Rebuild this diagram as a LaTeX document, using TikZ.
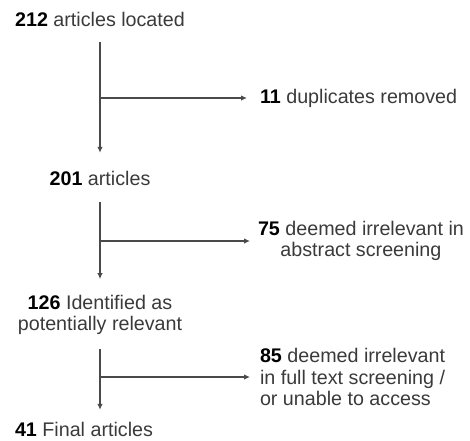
\documentclass[tikz,border=0pt]{standalone}
\usepackage{fontspec}
\setmainfont{Liberation Sans}
\usetikzlibrary{arrows.meta}
\definecolor{lineGray}{HTML}{4A4A4A}
\definecolor{textGray}{HTML}{3A3A3A}
\newcommand{\cnt}[1]{{\color{black}\bfseries #1}}
\tikzstyle{stageText}=[inner sep=0pt, outer sep=0pt, align=center, text=textGray, font=\fontsize{9.85}{10.75}\selectfont]
\tikzstyle{sideText}=[stageText, anchor=west]
\tikzstyle{flowArrow}=[lineGray, line width=0.6pt, -{Latex[length=3pt,width=2.8pt]}]

\begin{document}
\begin{tikzpicture}[x=0.5pt, y=-0.5pt]
    \useasboundingbox (0,0) rectangle (470,440);
    % nodes
    \node[stageText] (located) at (100, 19) {\cnt{212} articles located};
    \node[stageText] (articles) at (100, 178) {\cnt{201} articles};
    \node[stageText] (identified) at (100, 315) {\cnt{126} Identified as\\potentially relevant};
    \node[stageText] (final) at (84, 429) {\cnt{41} Final articles};

    \node[sideText] (duplicates) at (260, 98) {\cnt{11} duplicates removed};
    \node[sideText] (abstract) at (258, 241) {\cnt{75} deemed irrelevant in\\abstract screening};
    \node[sideText, align=left] (fulltext) at (260, 377) {\cnt{85} deemed irrelevant\\in full text screening /\\or unable to access};

    % Arcs
    \draw[flowArrow, shorten <=8pt, shorten >=9pt] (located.south) -- (articles.north);
    \draw[flowArrow, shorten <=8.5pt, shorten >=8pt] (articles.south) -- (identified.north);
    \draw[flowArrow, shorten <=7pt, shorten >=6pt] (identified.south) -- (identified.south |- final.north);

    \draw[flowArrow, shorten >=6.5pt] (located.south |- duplicates.west) -- (duplicates.west);
    \draw[flowArrow, shorten >=4pt] (articles.south |- abstract.west) -- (abstract.west);
    \draw[flowArrow, shorten >=5pt] (identified.south |- fulltext.west) -- (fulltext.west);

\end{tikzpicture}
\end{document}
